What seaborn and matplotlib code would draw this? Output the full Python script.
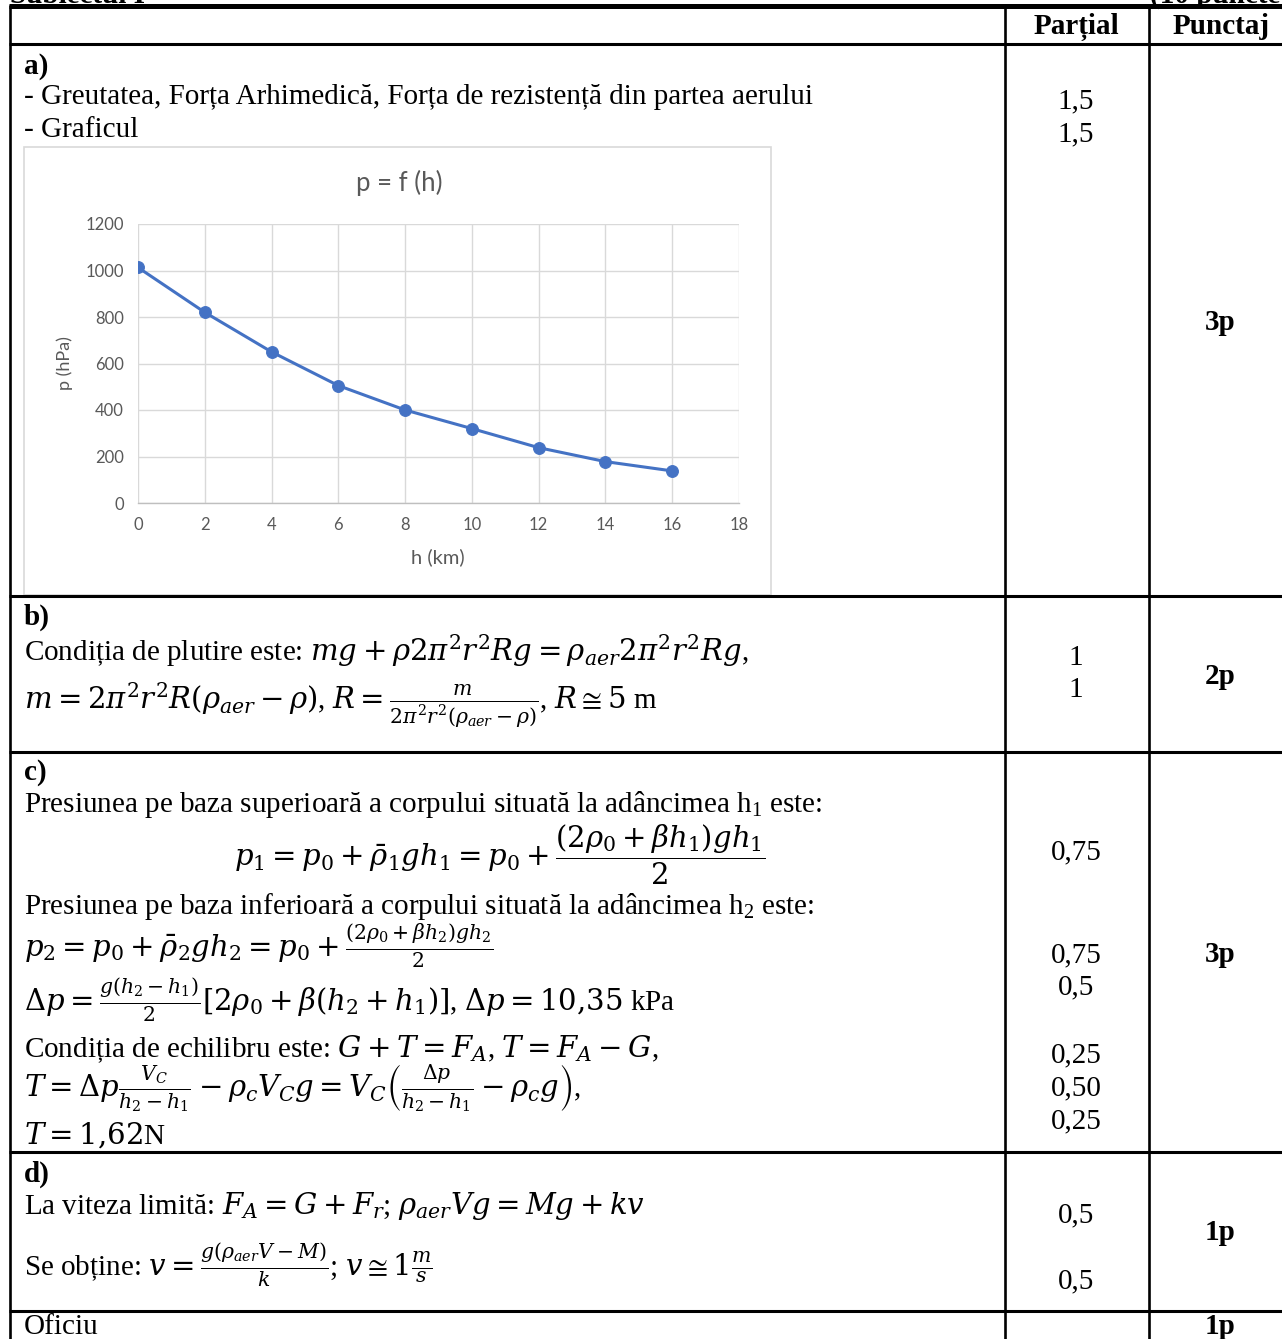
import matplotlib
matplotlib.use('Agg')
import matplotlib.pyplot as plt
from matplotlib.patches import Rectangle
import seaborn as sns

# chart data
h_km = [0, 2, 4, 6, 8, 10, 12, 14, 16]
p_hpa = [1013, 820, 650, 505, 400, 320, 238, 178, 138]
x_ticks = [0, 2, 4, 6, 8, 10, 12, 14, 16, 18]
y_ticks = [0, 200, 400, 600, 800, 1000, 1200]
chart_title = 'p = f (h)'
x_label = 'h (km)'
y_label = 'p (hPa)'

W, H = 1282, 1339
sns.set_theme(style='white')
plt.rcParams['font.family'] = ['Liberation Serif', 'DejaVu Serif']
plt.rcParams['mathtext.fontset'] = 'dejavuserif'

fig = plt.figure(figsize=(W / 100, H / 100), dpi=100)
page = fig.add_axes([0, 0, 1, 1])
page.set_xlim(0, W)
page.set_ylim(H, 0)
page.axis('off')

FS = 21


def hline(y, lw=2.2):
    page.plot([9, W], [y, y], color='black', lw=lw, solid_capstyle='butt')


def vline(x, lw=1.9):
    page.plot([x, x], [5, H], color='black', lw=lw, solid_capstyle='butt')


def txt(x, y, s, bold=False, ha='left', size=FS, va='center'):
    page.text(x, y, s, fontsize=size, ha=ha, va=va,
              fontweight='bold' if bold else 'normal', color='black')


# table grid
hline(6, lw=3.6)
for y in [44, 596, 752, 1152, 1311]:
    hline(y)
for x in [10, 1005, 1149]:
    vline(x)

# page heading (cut at the top, as in the scan)
txt(10, 3, 'Subiectul I', bold=True, va='baseline')
txt(1290, 3, '(10 puncte)', bold=True, ha='right', va='baseline')

# header
txt(1076, 27, 'Parțial', bold=True, ha='center')
txt(1221, 27, 'Punctaj', bold=True, ha='center')

# a)
txt(24, 66, 'a)', bold=True)
txt(24, 97, '- Greutatea, Forța Arhimedică, Forța de rezistență din partea aerului')
txt(24, 130, '- Graficul')
txt(1076, 101, '1,5', ha='center')
txt(1076, 134, '1,5', ha='center')
txt(1220, 323, '3p', bold=True, ha='center')

# b)
txt(24, 617, 'b)', bold=True)
txt(24, 651, r'Condiția de plutire este: $mg + \rho 2\pi^2 r^2 Rg = \rho_{aer} 2\pi^2 r^2 Rg$,')
txt(24, 705, r'$m = 2\pi^2 r^2 R(\rho_{aer} - \rho)$, $R = \frac{m}{2\pi^2 r^2 (\rho_{aer} - \rho)}$, $R \cong 5$ m')
txt(1076, 658, '1', ha='center')
txt(1076, 690, '1', ha='center')
txt(1220, 676, '2p', bold=True, ha='center')

# c)
txt(24, 773, 'c)', bold=True)
txt(24, 805, r'Presiunea pe baza superioară a corpului situată la adâncimea h$_\mathregular{1}$ este:')
txt(500, 855, r'$p_1 = p_0 + \bar{\rho}_1 g h_1 = p_0 + \dfrac{(2\rho_0 + \beta h_1) g h_1}{2}$', ha='center')
txt(24, 906, r'Presiunea pe baza inferioară a corpului situată la adâncimea h$_\mathregular{2}$ este:')
txt(24, 946, r'$p_2 = p_0 + \bar{\rho}_2 g h_2 = p_0 + \frac{(2\rho_0 + \beta h_2) g h_2}{2}$')
txt(24, 1000, r'$\Delta p = \frac{g(h_2 - h_1)}{2}[2\rho_0 + \beta(h_2 + h_1)]$, $\Delta p = 10{,}35$ kPa')
txt(24, 1049, r'Condiția de echilibru este: $G + T = F_A$, $T = F_A - G$,')
txt(24, 1088, r'$T = \Delta p \frac{V_C}{h_2 - h_1} - \rho_c V_C g = V_C \left(\frac{\Delta p}{h_2 - h_1} - \rho_c g\right)$,')
txt(24, 1135, r'$T = 1{,}62$N')
for y, s in [(852, '0,75'), (955, '0,75'), (987, '0,5'), (1055, '0,25'), (1088, '0,50'), (1121, '0,25')]:
    txt(1076, y, s, ha='center')
txt(1220, 955, '3p', bold=True, ha='center')

# d)
txt(24, 1174, 'd)', bold=True)
txt(24, 1206, r'La viteza limită: $F_A = G + F_r$; $\rho_{aer} V g = Mg + kv$')
txt(24, 1265, r'Se obține: $v = \frac{g(\rho_{aer} V - M)}{k}$; $v \cong 1\frac{m}{s}$')
txt(1076, 1215, '0,5', ha='center')
txt(1076, 1281, '0,5', ha='center')
txt(1220, 1233, '1p', bold=True, ha='center')

# oficiu
txt(24, 1327, 'Oficiu')
txt(1220, 1327, '1p', bold=True, ha='center')

# embedded chart
page.add_patch(Rectangle((24, 147), 747, 448, fill=False, edgecolor='#d9d9d9', lw=1.2))
grey = '#595959'
page.text(399, 183, chart_title, fontsize=18.5, ha='center', va='center', color=grey, family='Lato')
page.text(438, 557, x_label, fontsize=14.5, ha='center', va='center', color=grey, family='Lato')
page.text(65, 363, y_label, fontsize=13, ha='center', va='center', color=grey, family='Lato', rotation=90)

ax = fig.add_axes([138 / W, 1 - 503 / H, (739 - 138) / W, (503 - 224) / H])
sns.lineplot(x=h_km, y=p_hpa, ax=ax, color='#4472C4', lw=2.2, marker='o',
             markersize=8.5, markeredgecolor='#4472C4', zorder=3)
ax.set_xlim(0, 18)
ax.set_ylim(0, 1200)
ax.set_xticks(x_ticks)
ax.set_yticks(y_ticks)
ax.grid(True, color='#d9d9d9', lw=1)
for s in ['top', 'right', 'left']:
    ax.spines[s].set_visible(False)
ax.spines['bottom'].set_color('#bfbfbf')
ax.spines['bottom'].set_linewidth(1)
ax.tick_params(length=0, labelsize=12, colors=grey, pad=10)
for lbl in ax.get_xticklabels() + ax.get_yticklabels():
    lbl.set_family('Lato')
ax.set_xlabel('')
ax.set_ylabel('')
ax.set_facecolor('none')

fig.savefig('out.png', dpi=100)
